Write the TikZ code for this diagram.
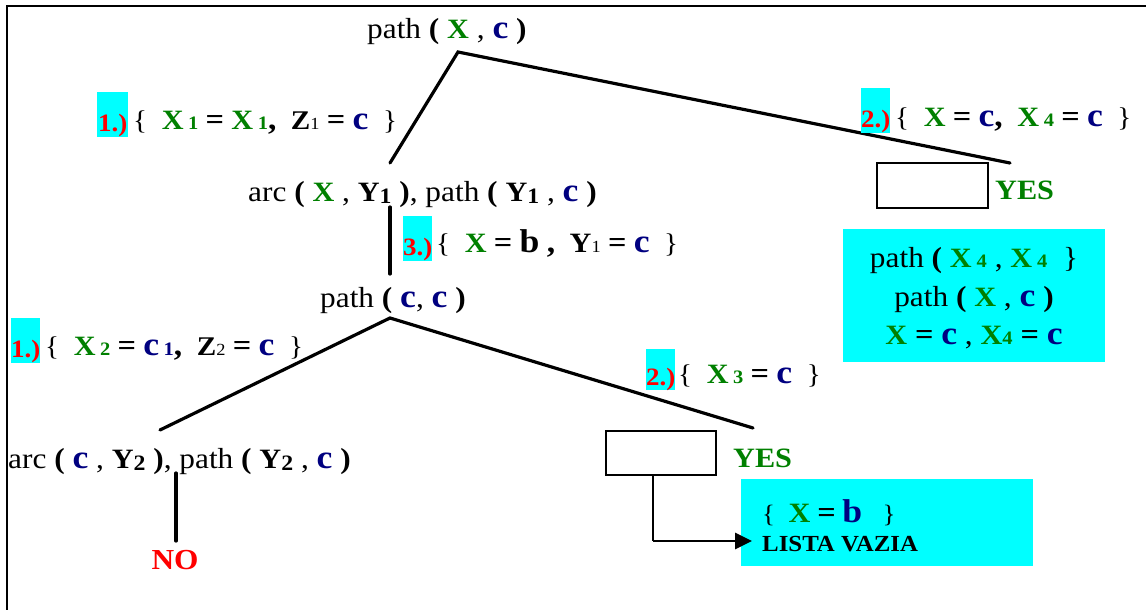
\documentclass[tikz,border=0pt]{standalone}
\usepackage{fontspec}
\setmainfont{Liberation Serif}[FakeStretch=1.08]
\usetikzlibrary{arrows.meta}
\definecolor{vgreen}{RGB}{0,128,0}
\definecolor{vnavy}{RGB}{0,0,128}
\definecolor{vred}{RGB}{255,0,0}
\definecolor{vcyan}{RGB}{0,255,255}

\newcommand{\fs}[1]{\fontsize{#1}{#1}\selectfont}
\newcommand{\gX}{{\fs{28}\bfseries\color{vgreen}X}}
\newcommand{\nC}{{\fs{33}\bfseries\color{vnavy}c}}
\newcommand{\nB}{{\fs{33}\bfseries\color{vnavy}b}}
\newcommand{\kB}{{\fs{33}\bfseries b}}
\newcommand{\bY}{{\fs{28}\bfseries Y}}
\newcommand{\bZ}{{\fs{27}\bfseries Z}}
\newcommand{\lp}{{\bfseries(}}
\newcommand{\rp}{{\bfseries)}}
\newcommand{\eq}{{\fs{30}\bfseries =}}
\newcommand{\cm}{{\fs{31}\bfseries,}}
\newcommand{\gs}[1]{{\fs{19}\bfseries\color{vgreen}#1}}
\newcommand{\ns}[1]{{\fs{19}\bfseries\color{vnavy}#1}}
\newcommand{\ks}[1]{{\fs{17}#1}}
\newcommand{\ys}[1]{\raisebox{-2pt}{\fs{22}\bfseries #1}}

\begin{document}
\begin{tikzpicture}[x=1pt,y=-1pt,
  term/.style={anchor=base west,inner sep=0pt,font=\fs{29}},
  lbl/.style={anchor=base west,inner sep=0pt,font=\fs{27}},
  tag/.style={fill=vcyan,inner sep=0pt,text=vred,font=\fs{25}\bfseries,
    anchor=north west,text height=39pt,text depth=6pt},
  yes/.style={anchor=base west,inner sep=0pt,text=vgreen,font=\fs{28}\bfseries},
  emptybox/.style={draw,line width=1.6pt,anchor=north west,inner sep=0pt},
  tree/.style={line width=3.2pt,line cap=round},
  note/.style={fill=vcyan,anchor=north west,inner sep=0pt}]
\useasboundingbox (0,0) rectangle (1146,610);

% frame
\draw[line width=2.2pt] (7,610) -- (7,6) -- (1146,6);

% goal nodes
\node[term] (g0) at (367,39) {path \lp\ \gX\ , \nC\ \rp};
\node[term] (g1) at (248,201) {arc \lp\ \gX\ , \bY\ys{1} \rp, path \lp\ \bY\ys{1} , \nC\ \rp};
\node[term] (g2) at (320,307) {path \lp\ \nC , \nC\ \rp};
\node[term] (g3) at (8,468) {arc \lp\ \nC\ , \bY\ys{2} \rp, path \lp\ \bY\ys{2} , \nC\ \rp};
\node[anchor=base,inner sep=0pt,text=vred,font=\fs{29}\bfseries] (no) at (175,569) {NO};

% edge end points
\coordinate (g0b) at (458,52);
\coordinate (g1t) at (390,163);
\coordinate (s1t) at (1010,163);
\coordinate (g1b) at (390,207);
\coordinate (g2t) at (390,274);
\coordinate (g2b) at (390,318);
\coordinate (g3t) at (160,430);
\coordinate (s2t) at (753,428);
\coordinate (g3b) at (176,473);
\coordinate (not) at (176,541);

\draw[tree] (g1t) -- (g0b) -- (s1t);
\draw[tree] (g1b) -- (g2t);
\draw[tree] (g3t) -- (g2b) -- (s2t);
\draw[tree] (g3b) -- (not);

% success boxes
\node[emptybox,minimum width=111pt,minimum height=45pt] (s1) at (876,162) {};
\node[yes] (y1) at (995,199) {YES};
\node[emptybox,minimum width=110pt,minimum height=44pt] (s2) at (605,430) {};
\node[yes] (y2) at (733,467) {YES};

% edge labels
\node[tag,minimum width=31pt] (t1) at (97,92) {1.)};
\node[lbl] (l1) at (133,129) {\{\ \ \gX\,\gs{1} \eq\ \gX\,\gs{1}\cm\ \ \bZ\ks{1} \eq\ \nC\ \ \}};
\node[tag,minimum width=28pt] (t2) at (861,88) {2.)};
\node[lbl] (l2) at (895,126) {\{\ \ \gX\ \eq\ \nC\cm\ \ \gX\,\gs{4} \eq\ \nC\ \ \}};
\node[tag,minimum width=28pt] (t3) at (403,216) {3.)};
\node[lbl] (l3) at (436,252) {\{\ \ \gX\ \eq\ \kB\ \cm\ \ \bY\ks{1} \eq\ \nC\ \ \}};
\node[tag,minimum width=29pt] (t4) at (11,318) {1.)};
\node[lbl] (l4) at (45,355) {\{\ \ \gX\,\gs{2} \eq\ \nC\,\ns{1}\cm\ \ \bZ\ks{2} \eq\ \nC\ \ \}};
\node[tag,minimum width=27pt,text height=36pt,text depth=5pt] (t5) at (646,349) {2.)};
\node[lbl] (l5) at (678,383) {\{\ \ \gX\,\gs{3} \eq\ \nC\ \ \}};

% answer notes
\node[note,minimum width=262pt,minimum height=133pt] (n1) at (843,229) {};
\node[term,anchor=base] (n1a) at (974,267) {path \lp\ \gX\,\gs{4} , \gX\,\gs{4}\ \ \}};
\node[term,anchor=base] (n1b) at (974,306) {path \lp\ \gX\ , \nC\ \rp};
\node[term,anchor=base] (n1c) at (974,344) {\gX\ \eq\ \nC\ , \gX\gs{4} \eq\ \nC};

\node[note,minimum width=292pt,minimum height=87pt] (n2) at (741,479) {};
\node[lbl,font=\fs{25}] (n2a) at (762,522) {\{\ \ \gX\ \eq\ \nB\ \ \ \}};
\node[lbl,font=\fs{23}\bfseries] (n2b) at (762,551) {LISTA VAZIA};

% link from the lower success box to its answer
\coordinate (lk0) at (653,474);
\coordinate (lk1) at (653,541);
\coordinate (lk2) at (752,541);
\draw[line width=1.8pt] (lk0) -- (lk1);
\draw[line width=2.8pt,-{Triangle[length=17pt,width=16pt]}] (lk1) -- (lk2);
\end{tikzpicture}
\end{document}
